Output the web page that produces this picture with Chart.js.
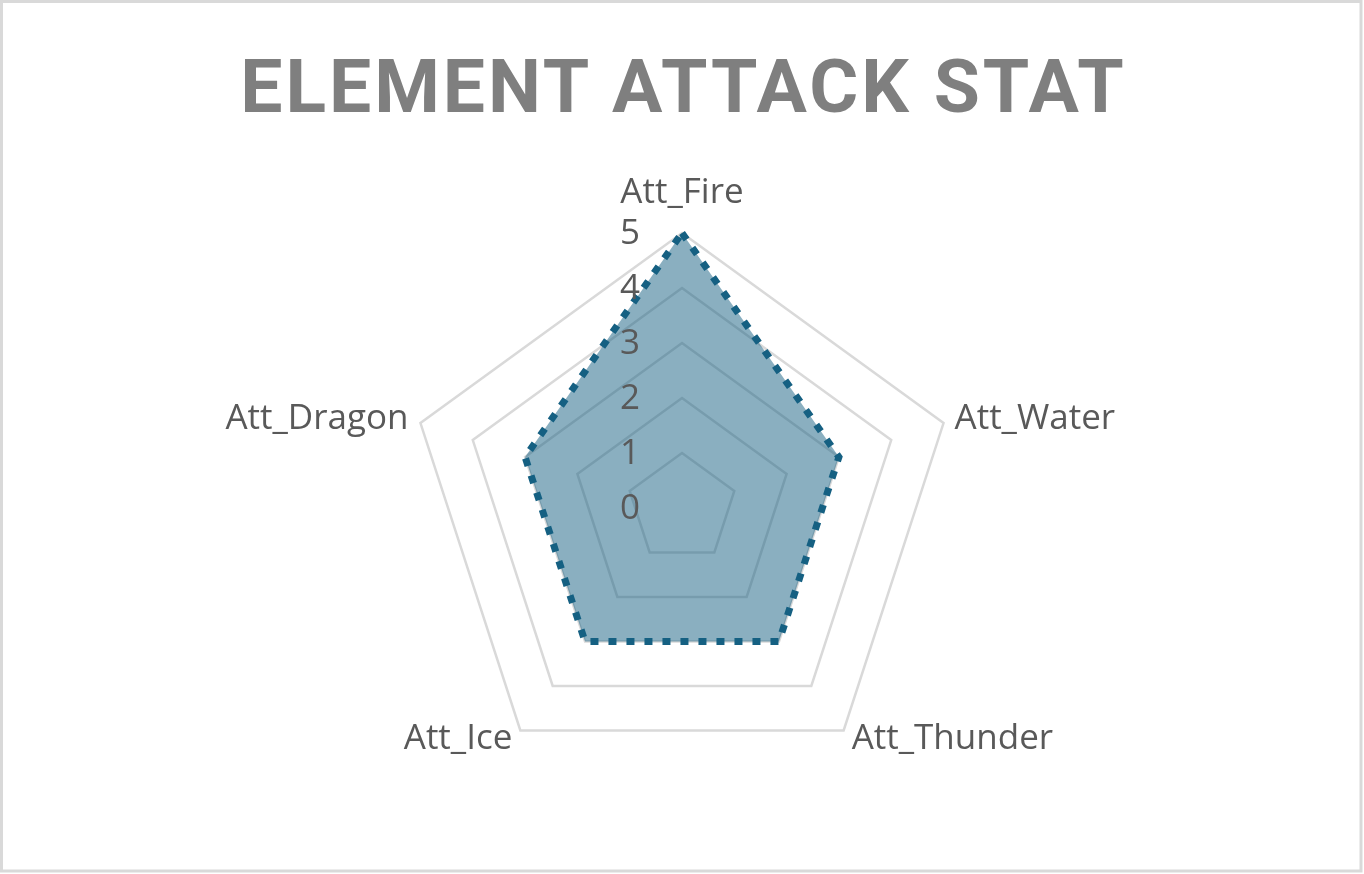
<!DOCTYPE html>
<html>
<head>
<meta charset="utf-8">
<script src="https://cdn.jsdelivr.net/npm/chart.js@4"></script>
<style>
  body { margin: 0; background: #fff; }
  #wrap { position: relative; width: 1364px; height: 874px; }
  canvas { display: block; }
  #title {
    position: absolute; left: 0; top: 40px; width: 1364px; margin: 0;
    text-align: center; color: #7f7f7f;
    font: bold 75px/92px Roboto, sans-serif;
    letter-spacing: 3px; text-indent: 3px;
  }
</style>
</head>
<body>
<div id="wrap">
  <canvas id="radar" width="1364" height="874"></canvas>
  <h1 id="title">ELEMENT ATTACK STAT</h1>
</div>
<script>
// chart data
const categories = ['Att_Fire', 'Att_Water', 'Att_Thunder', 'Att_Ice', 'Att_Dragon'];
const attackValues = [5, 3, 3, 3, 3];
const tickValues = [0, 1, 2, 3, 4, 5];

const textColor = '#595959';
const labelFont = '35px "Open Sans"';

// frame + white background
const frame = {
  id: 'frame',
  beforeDraw(chart) {
    const ctx = chart.ctx;
    ctx.save();
    ctx.fillStyle = '#fff';
    ctx.fillRect(0, 0, chart.width, chart.height);
    ctx.strokeStyle = '#d9d9d9';
    ctx.lineWidth = 3;
    ctx.strokeRect(1.5, 1.5, chart.width - 4.5, chart.height - 4.5);
    ctx.restore();
  }
};

// tick and category labels placed like Excel does
const radarLabels = {
  id: 'radarLabels',
  afterDatasetsDraw(chart) {
    const scale = chart.scales.r;
    const ctx = chart.ctx;
    ctx.save();
    ctx.fillStyle = textColor;
    ctx.font = labelFont;
    ctx.textBaseline = 'middle';

    ctx.textAlign = 'center';
    tickValues.forEach(v => {
      const y = scale.yCenter - scale.getDistanceFromCenterForValue(v);
      ctx.fillText(String(v), scale.xCenter - 52, y + 1);
    });

    categories.forEach((name, i) => {
      const p = scale.getPointPositionForValue(i, scale.max);
      const dx = p.x - scale.xCenter;
      const lower = p.y > scale.yCenter;
      if (Math.abs(dx) < 1) {
        ctx.textAlign = 'center';
        ctx.fillText(name, p.x, p.y - 40);
      } else if (dx > 0) {
        ctx.textAlign = 'left';
        ctx.fillText(name, p.x + (lower ? 8 : 11), p.y + (lower ? 9 : -4));
      } else {
        ctx.textAlign = 'right';
        ctx.fillText(name, p.x - (lower ? 8 : 12), p.y + (lower ? 9 : -4));
      }
    });
    ctx.restore();
  }
};

new Chart(document.getElementById('radar'), {
  type: 'radar',
  data: {
    labels: categories,
    datasets: [{
      label: 'Attack',
      data: attackValues,
      borderColor: '#156082',
      backgroundColor: 'rgba(21, 96, 130, 0.5)',
      borderWidth: 7,
      borderDash: [8, 10],
      fill: true,
      tension: 0,
      pointRadius: 0,
      pointHoverRadius: 0
    }]
  },
  options: {
    responsive: false,
    animation: false,
    devicePixelRatio: 1,
    layout: {
      padding: { top: 233, bottom: 91, left: 300, right: 300 }
    },
    scales: {
      r: {
        min: 0,
        max: 5,
        beginAtZero: true,
        ticks: { display: false, stepSize: 1 },
        pointLabels: { display: false },
        angleLines: { display: false },
        grid: { color: '#d9d9d9', lineWidth: 2.5 }
      }
    },
    plugins: {
      legend: { display: false },
      tooltip: { enabled: false },
      title: { display: false }
    }
  },
  plugins: [frame, radarLabels]
});
</script>
</body>
</html>
